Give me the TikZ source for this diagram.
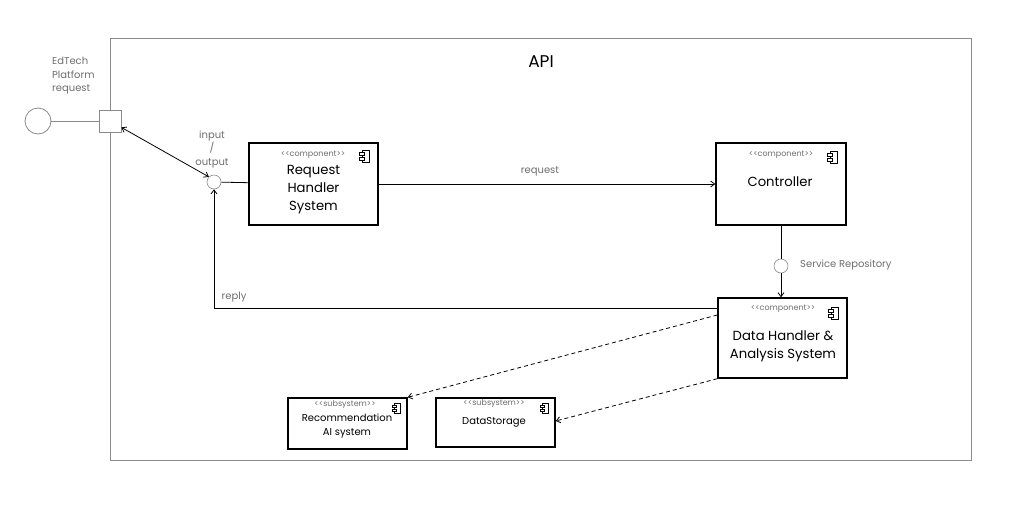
\documentclass[tikz,border=0pt]{standalone}
\usepackage{fontspec}
\setmainfont{Poppins}
\usetikzlibrary{arrows.meta}
\definecolor{frame}{HTML}{8A8A8A}
\definecolor{lbl}{HTML}{6E6E6E}
\tikzset{
  box/.style={draw=black, line width=1.4pt, fill=white, inner sep=0pt},
  port/.style={circle, draw=frame, line width=0.6pt, fill=white, inner sep=0pt, minimum size=14pt},
  maintext/.style={font=\fontsize{13.2}{18}\selectfont, align=center, inner sep=0pt},
  subtext/.style={font=\fontsize{10}{14}\selectfont, align=center, inner sep=0pt},
  stereo/.style={font=\fontsize{8}{9}\selectfont, text=lbl, inner sep=0pt},
  graylbl/.style={font=\fontsize{10}{13.5}\selectfont, text=lbl, inner sep=0pt},
  conn/.style={line width=0.8pt, -{Straight Barb[length=4pt,width=6pt]}},
  dconn/.style={line width=0.8pt, dashed, dash pattern=on 4pt off 3pt, -{Straight Barb[length=4pt,width=6pt]}},
  icon/.pic={
    \draw[line width=0.6pt] (-3,-6) rectangle (4,6);
    \draw[line width=0.6pt, fill=white] (-5.5,-4) rectangle (-0.5,-1);
    \draw[line width=0.6pt, fill=white] (-5.5,1) rectangle (-0.5,4);
  }
}
\newcommand{\stcomp}{<{}<component>{}>}
\newcommand{\stsub}{<{}<subsystem>{}>}
\begin{document}
\begin{tikzpicture}[x=1pt,y=-1pt]
\useasboundingbox (0,0) rectangle (1024,512);
% API frame
\node[draw=frame, line width=0.8pt, minimum width=861pt, minimum height=422pt, inner sep=0pt] (api) at (540.5,249) {};
\node[font=\fontsize{17}{20}\selectfont, inner sep=0pt] (apilbl) at (541,62) {API};

% external actor
\node[circle, draw=frame, line width=0.8pt, minimum size=26pt, inner sep=0pt] (actor) at (38,121) {};
\node[draw=frame, line width=0.8pt, fill=white, minimum size=22pt, inner sep=0pt] (sq) at (110,121) {};
\draw[frame, line width=0.8pt] (actor) -- (sq);
\node[graylbl, align=left, anchor=north west] (edlbl) at (52,57) {EdTech\\Platform\\request};

% input/output port
\node[port] (io) at (214,182) {};
\node[graylbl, align=center] (iolbl) at (212,149) {input\\/\\output};

% Request Handler
\node[box, minimum width=129pt, minimum height=82pt] (rh) at (313.5,184) {};
\node[stereo] (rhst) at (313,155) {\stcomp};
\pic at (365,156) {icon};
\node[maintext] (rhtxt) at (313.5,190) {Request\\Handler\\System};

% Controller
\node[box, minimum width=130pt, minimum height=82pt] (ctl) at (781,184) {};
\node[stereo] (ctlst) at (781,155) {\stcomp};
\pic at (833,157) {icon};
\node[maintext] (ctltxt) at (780,182) {Controller};

% Data Handler
\node[box, minimum width=129pt, minimum height=80pt] (dh) at (782.5,338) {};
\node[stereo] (dhst) at (783,309) {\stcomp};
\pic at (834,313) {icon};
\node[maintext] (dhtxt) at (783,346) {Data Handler \&\\Analysis System};

% service repository port
\node[port] (sr) at (781,266) {};
\node[graylbl, anchor=west] (srlbl) at (800,265) {Service Repository};

% Recommendation
\node[box, minimum width=119pt, minimum height=51pt] (rec) at (347.5,423.5) {};
\node[stereo] (recst) at (345,405) {\stsub};
\pic[scale=0.8] at (397,408) {icon};
\node[subtext] (rectxt) at (347,426) {Recommendation\\AI system};

% DataStorage
\node[box, minimum width=119pt, minimum height=49pt] (ds) at (495.5,422.5) {};
\node[stereo] (dsst) at (494,404) {\stsub};
\pic[scale=0.8] at (545,408) {icon};
\node[subtext] (dstxt) at (494,422) {DataStorage};

% connectors
\draw[line width=0.8pt, {Straight Barb[length=4pt,width=6pt]}-{Straight Barb[length=4pt,width=6pt]}] (sq.south east) ++(0,-5) coordinate (sqp) (sqp) -- (io.north west);
\draw[line width=0.8pt] (io) -- (rh);
\draw[conn] (rh) -- (ctl);
\node[graylbl] (reqlbl) at (540,171) {request};
\draw[line width=0.8pt] (ctl.south) -- (sr);
\draw[conn] (sr) -- (dh.north -| sr);
\coordinate (rp) at (dh.west |- 0,308);
\draw[conn] (rp) -- (214,308) -- (io.south);
\node[graylbl] (replbl) at (234,297) {reply};
\draw[dconn] (dh.west |- 0,315) -- (rec.north east);
\draw[dconn] (dh.south west) -- (ds.east |- 0,421);
\end{tikzpicture}
\end{document}
